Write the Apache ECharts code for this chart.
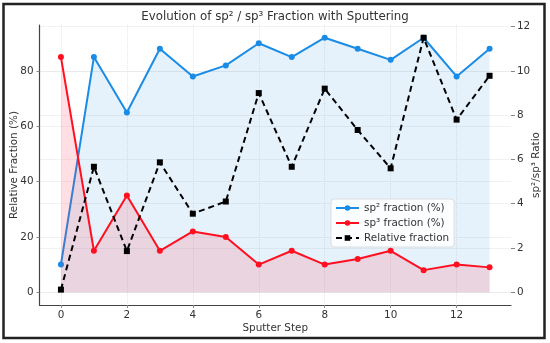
<!DOCTYPE html>
<html>
<head>
<meta charset="utf-8">
<script src="https://cdn.jsdelivr.net/npm/echarts@6/dist/echarts.min.js"></script>
<style>
html,body{margin:0;padding:0;background:#fff;}
#main{width:550px;height:343px;}
</style>
</head>
<body>
<div id="main"></div>
<script>
const steps = [0,1,2,3,4,5,6,7,8,9,10,11,12,13];
const sp2 = [10,85,65,88,78,82,90,85,92,88,84,92,78,88];
const sp3 = [85,15,35,15,22,20,10,15,10,12,15,8,10,9];
const ratio = [0.12,5.67,1.86,5.87,3.55,4.1,9.0,5.67,9.2,7.33,5.6,11.5,7.8,9.78];
const xTicks = [0,2,4,6,8,10,12];
const leftTicks = [0,20,40,60,80];
const rightTicks = [0,2,4,6,8,10,12];

const FONT = 'DejaVu Sans';
const FS = 10.4;
const blue = '#1a8ce6';
const red = '#ff1020';

const chart = echarts.init(document.getElementById('main'), null, {renderer:'canvas'});
const pair = (xs, ys) => xs.map((x,i)=>[x, ys[i]]);

chart.setOption({
  backgroundColor:'#fff',
  animation:false,
  title:{text:'Evolution of sp² / sp³ Fraction with Sputtering', left:'center', top:6,
    textStyle:{fontFamily:FONT, fontSize:11.8, fontWeight:'normal', color:'#333'}},
  grid:{left:39.5, right:39, top:25, bottom:38, outerBoundsMode:'none', containLabel:false},
  graphic:[{type:'rect', shape:{x:3.5,y:4,width:541,height:334}, style:{fill:null, stroke:'#222', lineWidth:2.5}, z:100}],
  legend:{
    orient:'vertical', left:331, top:199, itemWidth:23, itemHeight:7, itemGap:5,
    padding:[4,5,4,4], backgroundColor:'rgba(255,255,255,0.85)', borderColor:'#ddd', borderWidth:1, borderRadius:3,
    textStyle:{fontFamily:FONT, fontSize:FS, color:'#333'},
    data:['sp² fraction (%)','sp³ fraction (%)','Relative fraction']
  },
  xAxis:{
    type:'value', min:-0.65, max:13.65,
    name:'Sputter Step', nameLocation:'middle', nameGap:18, nameMoveOverlap:false,
    nameTextStyle:{fontFamily:FONT, fontSize:FS, color:'#333'},
    axisLine:{show:true, onZero:false, lineStyle:{color:'#444', width:1.2}},
    axisTick:{show:true, length:3, customValues:xTicks, lineStyle:{color:'#888'}},
    axisLabel:{customValues:xTicks, fontFamily:FONT, fontSize:FS, color:'#333', margin:5},
    splitLine:{show:true, lineStyle:{color:'#e8e8e8', type:'dotted', width:1}}
  },
  yAxis:[{
    type:'value', min:-4.6, max:96.6, position:'left',
    name:'Relative Fraction (%)', nameLocation:'middle', nameGap:20, nameMoveOverlap:false,
    nameTextStyle:{fontFamily:FONT, fontSize:FS, color:'#333'},
    axisLine:{show:true, onZero:false, lineStyle:{color:'#444', width:1.2}},
    axisTick:{show:true, length:3, customValues:leftTicks, lineStyle:{color:'#888'}},
    axisLabel:{customValues:leftTicks, fontFamily:FONT, fontSize:FS, color:'#333', margin:6},
    splitLine:{show:true, lineStyle:{color:'#e4e4e4', type:'dotted', width:1}}
  },{
    type:'value', min:-0.575, max:12.075, position:'right',
    name:'sp²/sp³ Ratio', nameLocation:'middle', nameGap:20, nameMoveOverlap:false,
    nameTextStyle:{fontFamily:FONT, fontSize:FS, color:'#333'},
    axisLine:{show:false, onZero:false},
    axisTick:{show:true, length:4, customValues:rightTicks, lineStyle:{color:'#888'}},
    axisLabel:{customValues:rightTicks, fontFamily:FONT, fontSize:FS, color:'#333', margin:6},
    splitLine:{show:true, lineStyle:{color:'#e4e4e4', type:'dotted', width:1}}
  }],
  series:[
    {name:'sp² fraction (%)', type:'line', yAxisIndex:0, data:pair(steps, sp2),
     symbol:'circle', symbolSize:6, itemStyle:{color:blue}, lineStyle:{color:blue, width:2},
     areaStyle:{color:'rgba(30,140,230,0.16)', origin:'auto'}, z:3},
    {name:'sp³ fraction (%)', type:'line', yAxisIndex:0, data:pair(steps, sp3),
     symbol:'circle', symbolSize:6, itemStyle:{color:red}, lineStyle:{color:red, width:2},
     areaStyle:{color:'rgba(255,40,70,0.21)', origin:'auto'}, z:4},
    {name:'Relative fraction', type:'line', yAxisIndex:1, data:pair(steps, ratio),
     symbol:'rect', symbolSize:6, itemStyle:{color:'#000'}, lineStyle:{color:'#000', width:2, type:[6,4]}, z:5}
  ]
});
</script>
</body>
</html>
